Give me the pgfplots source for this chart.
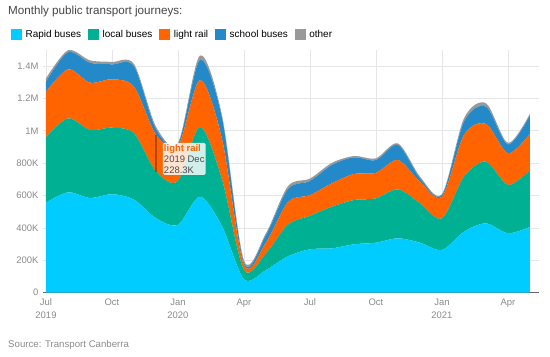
\documentclass[border=0pt]{standalone}
\usepackage{pgfplots}
\usepackage{pgfplotstable}
\pgfplotsset{compat=1.18}
\usepackage{fontspec}
\setmainfont{Liberation Sans}
\definecolor{cR}{HTML}{00CCFF}
\definecolor{cL}{HTML}{00B092}
\definecolor{cLR}{HTML}{FF6400}
\definecolor{cS}{HTML}{2389C9}
\definecolor{cO}{HTML}{999999}
\definecolor{gridc}{HTML}{E6E6E6}
\definecolor{tickc}{HTML}{8A8A8A}
\definecolor{titlec}{HTML}{444444}
\pgfplotstableread{
i R L LR S O
0 556 404 281 62 21
1 620 457 303 105 12
2 585 420 292 123 15
3 608 411 299 92 15
4 575 409 288 126 14
5 460 288 228 34 15
6 420 270 215 13 7
7 593 430 290 124 28
8 410 290 250 130 15
9 83 57 31 14 13
10 140 103 67 46 11
11 225 195 140 80 18
12 268 207 128 87 15
13 274 257 145 113 13
14 299 273 161 103 8
15 309 274 158 78 11
16 336 302 181 93 10
17 309 243 133 21 11
18 264 195 134 10 6
19 377 339 258 82 21
20 428 381 233 107 21
21 367 298 196 54 10
22 406 352 224 113 11
}\data
\begin{document}
\begin{tikzpicture}
\useasboundingbox (0,0) rectangle (550bp,357bp);
\node[anchor=west, inner sep=0, text=titlec, font=\fontsize{11.7}{13}\selectfont] at (8bp,345.5bp) {Monthly public transport journeys:};
\node[anchor=west, inner sep=0, text=tickc, font=\fontsize{9.7}{11}\selectfont] at (8bp,12bp) {Source: Transport Canberra};
\begin{axis}[
  at={(43bp,64.3bp)}, anchor=south west,
  scale only axis, width=496bp, height=242.9bp,
  xmin=-0.136, xmax=22.41, ymin=0, ymax=1500,
  stack plots=y,
  axis x line*=bottom, axis y line*=left,
  x axis line style={-, draw=black!60, line width=0.8bp},
  y axis line style={draw=none},
  major tick length=0pt,
  grid=major, grid style={gridc, line width=0.8bp},
  xtick={0,3,...,21},
  xticklabels={Jul\\2019, Oct, Jan\\2020, Apr, Jul, Oct, Jan\\2021, Apr},
  xticklabel style={align=center, text=tickc, font=\fontsize{9.5}{13}\selectfont, yshift=-2.5bp},
  ytick={0,200,...,1400},
  yticklabels={0,200K,400K,600K,800K,1M,1.2M,1.4M},
  yticklabel style={text=tickc, font=\fontsize{9.5}{11}\selectfont, xshift=-1bp},
  /pgf/number format/assume math mode=true,
  legend style={at={(-0.0706,1.062)}, anchor=west, draw=none, fill=none,
    legend columns=-1, font=\fontsize{10}{12}\selectfont,
    /tikz/every odd column/.append style={column sep=3.5bp},
    /tikz/every even column/.append style={column sep=7bp},
    nodes={inner sep=0pt}},
  legend image code/.code={\fill[#1] (0bp,-5.5bp) rectangle (11bp,5.5bp);},
]
\addplot[fill=cR, draw=none, smooth, tension=0.5] table[x=i,y=R] {\data} \closedcycle;
\addplot[fill=cL, draw=none, smooth, tension=0.5] table[x=i,y=L] {\data} \closedcycle;
\addplot[fill=cLR, draw=none, smooth, tension=0.5] table[x=i,y=LR] {\data} \closedcycle;
\addplot[fill=cS, draw=none, smooth, tension=0.5] table[x=i,y=S] {\data} \closedcycle;
\addplot[fill=cO, draw=none, smooth, tension=0.5] table[x=i,y=O] {\data} \closedcycle;
\legend{Rapid buses, local buses, light rail, school buses, other}
\coordinate (lineA) at (axis cs:5,748);
\coordinate (lineB) at (axis cs:5,976);
\coordinate (tip) at (axis cs:5.3,926);
\end{axis}
\draw[color=cLR!70!black, line width=1.5bp] (lineA) -- (lineB);
\node[anchor=north west, align=left, inner sep=1.2bp, rounded corners=1.5bp, fill=white, fill opacity=0.82, text opacity=1, font=\fontsize{9.5}{11.3}\selectfont] at (tip)
  {\textcolor{cLR}{\textbf{light rail}}\\\textcolor{black!70}{2019 Dec}\\\textcolor{black!70}{228.3K}};
\end{tikzpicture}
\end{document}
